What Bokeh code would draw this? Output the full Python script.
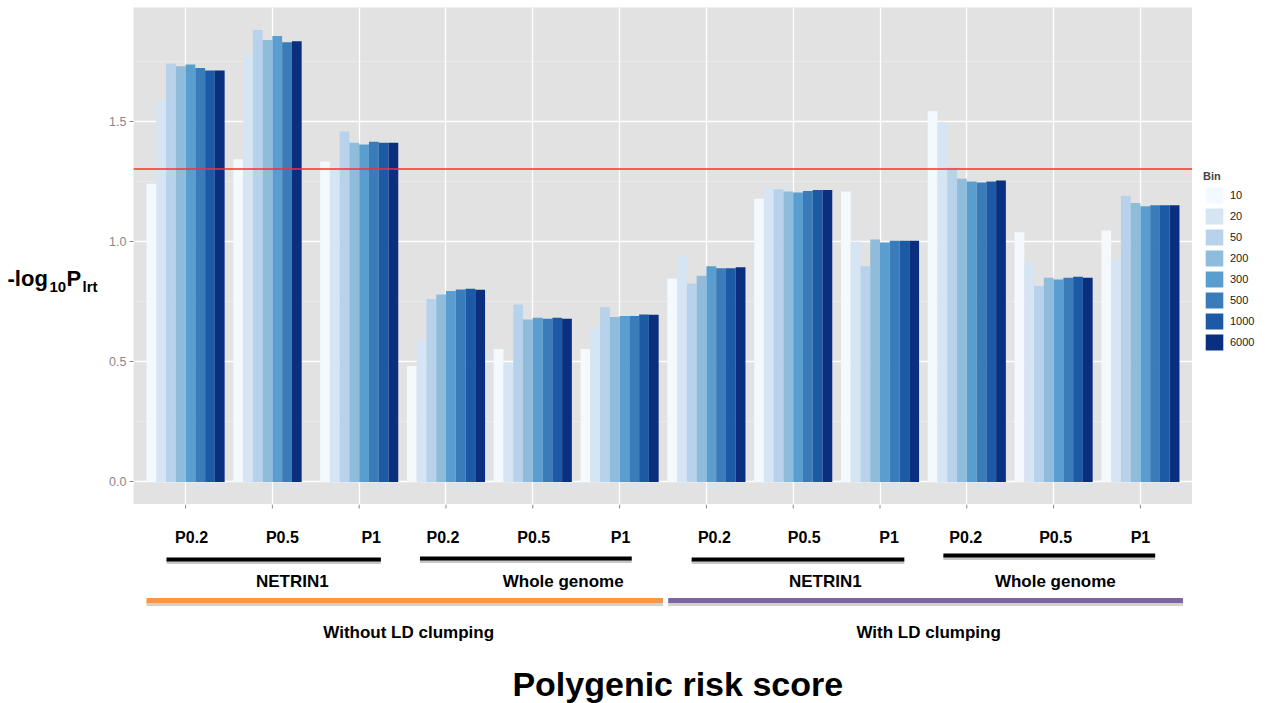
from bokeh.plotting import figure
from bokeh.models import (Range1d, FixedTicker, Span, Legend, LegendItem, Grid,
                          ColumnDataSource, PrintfTickFormatter)
from bokeh.layouts import column, row
from bokeh.embed import file_html
from bokeh.resources import INLINE
from bokeh.core.properties import value

# ---------------- data ----------------
thresholds = ["P0.2", "P0.5", "P1", "P0.2", "P0.5", "P1",
              "P0.2", "P0.5", "P1", "P0.2", "P0.5", "P1"]
regions = ["NETRIN1", "Whole genome", "NETRIN1", "Whole genome"]
clumping = ["Without LD clumping", "With LD clumping"]
bins = ["10", "20", "50", "200", "300", "500", "1000", "6000"]

v10 = [1.240, 1.342, 1.333, 0.482, 0.553, 0.553, 0.845, 1.178, 1.208, 1.542, 1.038, 1.046]
v20 = [1.588, 1.776, 1.310, 0.596, 0.494, 0.639, 0.943, 1.224, 0.999, 1.497, 0.913, 0.926]
v50 = [1.740, 1.879, 1.457, 0.761, 0.738, 0.726, 0.825, 1.217, 0.897, 1.307, 0.815, 1.190]
v200 = [1.729, 1.838, 1.410, 0.779, 0.675, 0.686, 0.857, 1.208, 1.008, 1.261, 0.849, 1.160]
v300 = [1.736, 1.854, 1.403, 0.794, 0.683, 0.690, 0.897, 1.204, 0.996, 1.249, 0.842, 1.146]
v500 = [1.721, 1.828, 1.415, 0.800, 0.679, 0.690, 0.889, 1.210, 1.003, 1.245, 0.849, 1.151]
v1000 = [1.711, None, 1.410, 0.803, 0.683, 0.696, 0.889, 1.214, 1.003, 1.249, 0.853, 1.151]
v6000 = [1.711, 1.833, 1.410, 0.799, 0.679, 0.695, 0.893, 1.214, 1.003, 1.253, 0.849, 1.151]
series = [v10, v20, v50, v200, v300, v500, v1000, v6000]

threshold_line = 1.301  # -log10(0.05)

# ---------------- styling / layout ----------------
colors = ["#f4f9fe", "#d5e5f4", "#b9d2eb", "#8fbcdb", "#5a9ecf", "#3a7cb9", "#1c5aa5", "#0a2f7f"]
FONT_NAME = "Liberation Sans"
FONT = value(FONT_NAME)
PANEL = "#e2e2e2"

TOTAL_W, TOTAL_H = 1266, 703
YLAB_W = 100            # strip holding the y title
LEG_W = 74              # strip holding the legend
MAIN_W = TOTAL_W - YLAB_W - LEG_W
LEFT = 33               # room for y tick labels
TOP = 7
H1 = 504                # main plot height (frame bottom at 504)
H2 = TOTAL_H - H1
XR = (0.4, 12.6)
YR = (-0.094, 1.973)
cats = list(range(1, len(thresholds) + 1))

p = figure(width=MAIN_W, height=H1, x_range=Range1d(*XR), y_range=Range1d(*YR),
           output_backend="svg", toolbar_location=None, x_axis_type=None,
           min_border_left=LEFT, min_border_right=0,
           min_border_top=TOP, min_border_bottom=0)
p.background_fill_color = PANEL
p.border_fill_color = "white"
p.outline_line_color = None

# dodged bars
n = len(bins)
dodge = 0.9
bw = dodge / n
for k, (b, vals) in enumerate(zip(bins, series)):
    xs, tops = [], []
    for j in range(len(thresholds)):
        if vals[j] is None:
            continue
        present = [kk for kk in range(n) if series[kk][j] is not None]
        r = present.index(k)
        xs.append(cats[j] - dodge / 2 + (r + 0.5) * bw)
        tops.append(vals[j])
    src = ColumnDataSource(dict(x=xs, top=tops))
    p.vbar(x="x", top="top", bottom=0, width=bw, source=src,
           fill_color=colors[k], line_color=None)

p.add_layout(Span(location=threshold_line, dimension="width",
                  line_color="#ff2d2d", line_width=1.5))

# y axis
p.yaxis.ticker = FixedTicker(ticks=[0, 0.5, 1.0, 1.5], minor_ticks=[0.25, 0.75, 1.25, 1.75])
p.yaxis.formatter = PrintfTickFormatter(format="%.1f")
p.yaxis.axis_line_color = None
p.yaxis.major_tick_line_color = "#8a8a8a"
p.yaxis.major_tick_out = 4
p.yaxis.major_tick_in = 0
p.yaxis.minor_tick_line_color = None
p.yaxis.major_label_text_font = FONT_NAME
p.yaxis.major_label_text_font_size = "12.5px"
p.yaxis.major_label_text_color = "#888888"
p.yaxis.major_label_standoff = 3

p.ygrid.grid_line_color = "white"
p.ygrid.grid_line_width = 1.3
p.ygrid.minor_grid_line_color = "#f0f0f0"
p.ygrid.minor_grid_line_width = 0.6
p.add_layout(Grid(dimension=0, ticker=FixedTicker(ticks=cats),
                  grid_line_color="white", grid_line_width=1.3))

# ---------------- y title strip (pixel coordinates) ----------------
py = figure(width=YLAB_W, height=TOTAL_H, x_range=Range1d(0, YLAB_W), y_range=Range1d(TOTAL_H, 0),
            output_backend="svg", toolbar_location=None, x_axis_type=None, y_axis_type=None,
            min_border=0)
py.outline_line_color = None
py.grid.visible = False
py.text(x=[7, 66], y=[278, 278], text=["-log", "P"], text_font=FONT, text_font_style="bold",
        text_font_size="22px", text_baseline="middle", text_align="left", text_color="black")
py.text(x=[49, 82], y=[286, 286], text=["10", "lrt"], text_font=FONT, text_font_style="bold",
        text_font_size="15px", text_baseline="middle", text_align="left", text_color="black")

# ---------------- legend strip ----------------
pl = figure(width=LEG_W, height=TOTAL_H, x_range=Range1d(0, 1), y_range=Range1d(0, 1),
            output_backend="svg", toolbar_location=None, x_axis_type=None, y_axis_type=None,
            min_border=0)
pl.outline_line_color = None
pl.grid.visible = False
# key glyphs (placed outside the visible range; only their legend swatches show)
swatches = [pl.vbar(x=[5], top=[5], bottom=[4], width=0.1, fill_color=c, line_color=None)
            for c in colors]
legend = Legend(items=[LegendItem(label=b, renderers=[r], index=0) for b, r in zip(bins, swatches)],
                title="Bin", location=(11, TOTAL_H - 352),
                glyph_width=22, glyph_height=20, label_height=20, spacing=1,
                padding=4, margin=0, label_standoff=5,
                label_text_font=FONT_NAME, label_text_font_size="11px", label_text_color="#1a1a1a",
                title_text_font=FONT_NAME, title_text_font_size="11px", title_text_font_style="bold",
                title_standoff=3, border_line_color=None, background_fill_alpha=0)
pl.add_layout(legend)

# ---------------- bottom annotation strip (x: categories, y: pixels) ----------------
p2 = figure(width=MAIN_W, height=H2, x_range=p.x_range, y_range=Range1d(TOTAL_H, H1),
            output_backend="svg", toolbar_location=None,
            min_border_left=LEFT, min_border_right=0, min_border_top=0, min_border_bottom=0,
            x_axis_type=None, y_axis_type=None)
p2.outline_line_color = None
p2.grid.visible = False
p2.background_fill_color = "white"

# axis ticks under the panel
p2.segment(x0=cats, y0=[H1] * len(cats), x1=cats, y1=[H1 + 4] * len(cats),
           line_color="#8a8a8a", line_width=1)

nudges = [6, 10, 12, -3, 1, 1, 8, 11, 9, -1, 2, 0]
p2.text(x=cats, y=[537] * len(cats), text=thresholds, x_offset=nudges,
        text_font=FONT, text_font_style="bold", text_font_size="16px",
        text_align="center", text_baseline="middle", text_color="black")

# black brackets under threshold groups
bx0 = [0.78, 3.70, 6.83, 9.73]
bx1 = [3.25, 6.14, 9.28, 12.17]
by = [559, 558, 559, 555]
p2.segment(x0=bx0, y0=[v + 2.5 for v in by], x1=bx1, y1=[v + 2.5 for v in by],
           line_color="black", line_alpha=0.22, line_width=4)
p2.segment(x0=bx0, y0=by, x1=bx1, y1=by, line_color="black", line_width=4)

p2.text(x=[2.23, 5.35, 8.37, 11.02], y=[581] * 4, text=regions,
        text_font=FONT, text_font_style="bold", text_font_size="17px",
        text_align="center", text_baseline="middle", text_color="black")

# coloured lines for clumping
cx0 = [0.55, 6.56]
cx1 = [6.50, 12.49]
p2.segment(x0=cx0, y0=[603, 603], x1=cx1, y1=[603, 603],
           line_color="black", line_alpha=0.18, line_width=5)
p2.segment(x0=cx0, y0=[600, 600], x1=cx1, y1=[600, 600],
           line_color=["#f79646", "#8064a2"], line_width=5)

p2.text(x=[3.57, 9.56], y=[632, 632], text=clumping,
        text_font=FONT, text_font_style="bold", text_font_size="17px",
        text_align="center", text_baseline="middle", text_color="black")

p2.text(x=[6.67], y=[683], text=["Polygenic risk score"],
        text_font=FONT, text_font_style="bold", text_font_size="34px",
        text_align="center", text_baseline="middle", text_color="black")

layout = row(py, column(p, p2, spacing=0), pl, spacing=0)
open("out.html", "w").write(file_html(layout, INLINE))
